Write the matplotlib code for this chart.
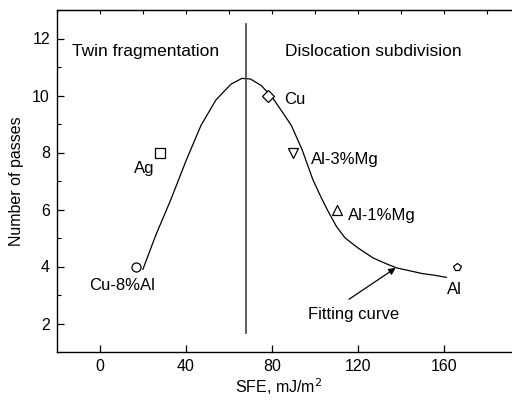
import numpy as np
import matplotlib.pyplot as plt
from matplotlib.ticker import MultipleLocator

plt.rcParams['font.family'] = ['Liberation Sans', 'DejaVu Sans']

# metals: SFE (mJ/m^2) vs number of passes
metals = ["Cu-8%Al", "Ag", "Cu", "Al-3%Mg", "Al-1%Mg", "Al"]
sfe = [17, 28, 78, 90, 110, 166]
passes = [4, 8, 10, 8, 6, 4]
markers = ["o", "s", "D", "v", "^", "p"]
msizes = [6.5, 7, 6, 7, 7, 6]

# fitted curve traced through the data
fit_x = [20, 26, 33, 40, 47, 54, 61, 66, 70, 75, 80, 85, 89, 94, 99, 103, 106, 110,
         114, 120, 127, 133, 138, 144, 150, 155, 161]
fit_y = [3.9, 5.1, 6.35, 7.7, 8.95, 9.85, 10.4, 10.6, 10.58, 10.35, 9.95, 9.4, 8.95,
         8.1, 7.05, 6.4, 5.95, 5.4, 5.0, 4.65, 4.3, 4.1, 3.95, 3.85, 3.75, 3.7, 3.62]

label_pos = {
    "Cu-8%Al": (10.5, 3.35, "center"),
    "Ag": (25.5, 7.45, "right"),
    "Cu": (85.5, 9.85, "left"),
    "Al-3%Mg": (98, 7.75, "left"),
    "Al-1%Mg": (115.5, 5.8, "left"),
    "Al": (165, 3.2, "center"),
}

fig = plt.figure(figsize=(5.12, 4.0), dpi=100)
ax = fig.add_axes([0.111, 0.12, 0.895, 0.855])

ax.plot(fit_x, fit_y, color="black", linewidth=0.9)
for name, x, y, m, ms in zip(metals, sfe, passes, markers, msizes):
    ax.plot(x, y, marker=m, markersize=ms, markerfacecolor="white",
            markeredgecolor="black", markeredgewidth=0.9, linestyle="none")
    lx, ly, ha = label_pos[name]
    ax.text(lx, ly, name, ha=ha, va="center", fontsize=12)

ax.plot([68, 68], [1.65, 12.5], color="#444444", linewidth=1.2)

ax.text(-13, 11.55, "Twin fragmentation", ha="left", va="center", fontsize=12.5)
ax.text(86, 11.55, "Dislocation subdivision", ha="left", va="center", fontsize=12.5)

ax.text(118, 2.32, "Fitting curve", ha="center", va="center", fontsize=12)
ax.annotate("", xy=(137.5, 3.95), xytext=(115.8, 2.85),
            arrowprops=dict(arrowstyle="-|>", color="black", lw=0.9,
                            mutation_scale=10, shrinkA=0, shrinkB=0))

ax.set_xlim(-20, 193)
ax.set_ylim(1, 13)
ax.set_xticks([0, 40, 80, 120, 160])
ax.set_yticks([2, 4, 6, 8, 10, 12])
ax.yaxis.set_minor_locator(MultipleLocator(1))
ax.tick_params(axis="both", which="major", direction="in", length=5, width=0.9,
               labelsize=11.5, pad=5)
ax.tick_params(axis="y", which="minor", direction="in", length=3, width=0.8)
ax.tick_params(axis="x", top=False)

# top spine ticks every 20
top = ax.secondary_xaxis("top")
top.set_xticks(np.arange(-20, 200, 20))
top.tick_params(direction="in", length=3, width=0.8, labeltop=False)

ax.spines["right"].set_visible(False)
for s in ["left", "bottom", "top"]:
    ax.spines[s].set_linewidth(1.0)

ax.set_xlabel("SFE, mJ/m$^2$", fontsize=11.5)
ax.set_ylabel("Number of passes", fontsize=11.5)
ax.xaxis.set_label_coords(0.485, -0.07)
ax.yaxis.set_label_coords(-0.072, 0.5)

fig.savefig("out.png", dpi=100)
